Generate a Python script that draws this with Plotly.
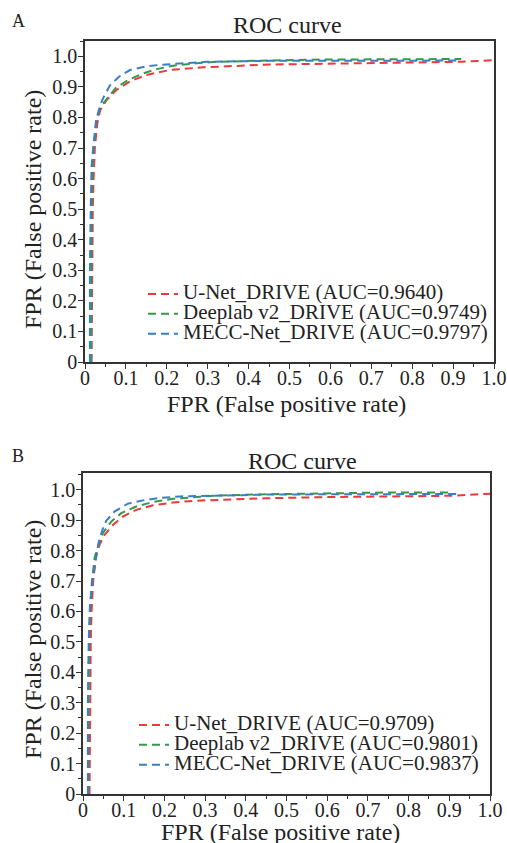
import plotly.graph_objects as go

# ---------------- data ----------------
# Panel A
a_unet_x = [0.016, 0.017, 0.019, 0.021, 0.024, 0.030, 0.037, 0.053, 0.077, 0.110, 0.150, 0.207, 0.288, 0.45, 0.60, 0.75, 0.85, 0.92, 1.0]
a_unet_y = [0.0, 0.30, 0.50, 0.60, 0.70, 0.78, 0.823, 0.857, 0.890, 0.918, 0.939, 0.955, 0.964, 0.973, 0.976, 0.978, 0.980, 0.982, 0.987]
a_deep_x = [0.015, 0.015, 0.016, 0.018, 0.021, 0.028, 0.037, 0.053, 0.075, 0.105, 0.140, 0.175, 0.215, 0.272, 0.313, 0.41, 0.55, 0.70, 0.85, 0.92]
a_deep_y = [0.0, 0.30, 0.50, 0.62, 0.70, 0.79, 0.833, 0.860, 0.896, 0.922, 0.943, 0.958, 0.969, 0.977, 0.981, 0.985, 0.989, 0.990, 0.991, 0.991]
a_mecc_x = [0.012, 0.012, 0.014, 0.016, 0.020, 0.027, 0.037, 0.045, 0.061, 0.083, 0.110, 0.150, 0.183, 0.232, 0.297, 0.45, 0.60, 0.75, 0.92]
a_mecc_y = [0.0, 0.30, 0.50, 0.64, 0.70, 0.79, 0.84, 0.865, 0.905, 0.933, 0.955, 0.967, 0.972, 0.977, 0.982, 0.985, 0.985, 0.985, 0.986]

# Panel B
b_unet_x = [0.016, 0.017, 0.019, 0.021, 0.025, 0.032, 0.041, 0.053, 0.074, 0.098, 0.131, 0.172, 0.221, 0.278, 0.328, 0.45, 0.60, 0.75, 0.90, 1.0]
b_unet_y = [0.0, 0.30, 0.50, 0.60, 0.70, 0.78, 0.82, 0.852, 0.885, 0.912, 0.934, 0.949, 0.958, 0.964, 0.967, 0.972, 0.976, 0.978, 0.980, 0.987]
b_deep_x = [0.013, 0.013, 0.015, 0.018, 0.022, 0.029, 0.037, 0.049, 0.070, 0.094, 0.131, 0.172, 0.221, 0.278, 0.328, 0.45, 0.60, 0.75, 0.897]
b_deep_y = [0.0, 0.25, 0.50, 0.62, 0.70, 0.78, 0.814, 0.858, 0.896, 0.923, 0.945, 0.960, 0.970, 0.976, 0.981, 0.985, 0.989, 0.991, 0.991]
b_mecc_x = [0.012, 0.012, 0.014, 0.017, 0.023, 0.031, 0.038, 0.047, 0.057, 0.078, 0.110, 0.147, 0.188, 0.238, 0.320, 0.45, 0.60, 0.75, 0.917]
b_mecc_y = [0.0, 0.30, 0.50, 0.62, 0.70, 0.774, 0.825, 0.865, 0.898, 0.929, 0.954, 0.965, 0.973, 0.978, 0.981, 0.984, 0.985, 0.986, 0.986]

names_a = ["U-Net_DRIVE (AUC=0.9640)", "Deeplab v2_DRIVE (AUC=0.9749)", "MECC-Net_DRIVE (AUC=0.9797)"]
names_b = ["U-Net_DRIVE (AUC=0.9709)", "Deeplab v2_DRIVE (AUC=0.9801)", "MECC-Net_DRIVE (AUC=0.9837)"]
colors = ["#ea3a3c", "#34994a", "#3b7ec8"]

tick_vals = [0, 0.1, 0.2, 0.3, 0.4, 0.5, 0.6, 0.7, 0.8, 0.9, 1.0]
tick_text = ["0", "0.1", "0.2", "0.3", "0.4", "0.5", "0.6", "0.7", "0.8", "0.9", "1.0"]

FONT = "Liberation Serif, Times New Roman, serif"
TXT = "#222222"

W, H = 507, 843


def fx(p):
    return p / W


def fy(p):
    return 1 - p / H


fig = go.Figure()

series_a = [(a_unet_x, a_unet_y), (a_deep_x, a_deep_y), (a_mecc_x, a_mecc_y)]
series_b = [(b_unet_x, b_unet_y), (b_deep_x, b_deep_y), (b_mecc_x, b_mecc_y)]

for (xs, ys), nm, c in zip(series_a, names_a, colors):
    fig.add_trace(go.Scatter(x=xs, y=ys, mode="lines", name='<span style="font-size:21px">%s</span>' % nm,
                             line=dict(color=c, width=2, dash="8px,5px"),
                             xaxis="x", yaxis="y", legend="legend"))
for (xs, ys), nm, c in zip(series_b, names_b, colors):
    fig.add_trace(go.Scatter(x=xs, y=ys, mode="lines", name='<span style="font-size:21px">%s</span>' % nm,
                             line=dict(color=c, width=2, dash="8px,5px"),
                             xaxis="x2", yaxis="y2", legend="legend2"))

axis_common = dict(
    showline=True, linecolor="#333333", linewidth=1.5, mirror=True,
    ticks="outside", ticklen=5, tickwidth=1.2, tickcolor="#333333",
    tickvals=tick_vals, ticktext=tick_text,
    tickfont=dict(family=FONT, size=20, color=TXT),
    minor=dict(ticks="outside", ticklen=3, tickwidth=1, tickcolor="#333333", dtick=0.05, showgrid=False),
    showgrid=False, zeroline=False, automargin=False,
)
x_extra = dict(ticklabelstandoff=-8)
y_extra = dict(ticklabelstandoff=-3)

legend_common = dict(xanchor="left", yanchor="top", bgcolor="rgba(0,0,0,0)",
                     font=dict(family=FONT, size=13, color=TXT),
                     itemwidth=30, tracegroupgap=0, borderwidth=0)


def ann(text, x, y, size, angle=0):
    return dict(text=text, x=fx(x), y=fy(y), xref="paper", yref="paper", showarrow=False,
                font=dict(family=FONT, size=size, color=TXT), textangle=angle,
                xanchor="center", yanchor="middle")


fig.update_layout(
    width=W, height=H,
    margin=dict(l=0, r=0, t=0, b=0),
    paper_bgcolor="white", plot_bgcolor="white",
    font=dict(family=FONT, color=TXT),
    xaxis=dict(axis_common, **x_extra, domain=[fx(85), fx(494)], range=[0, 1.0], anchor="y"),
    yaxis=dict(axis_common, **y_extra, domain=[fy(362), fy(41)], range=[0, 1.05], anchor="x"),
    xaxis2=dict(axis_common, **x_extra, domain=[fx(83), fx(490)], range=[0, 1.0], anchor="y2"),
    yaxis2=dict(axis_common, **y_extra, domain=[fy(794), fy(473)], range=[0, 1.055], anchor="x2"),
    legend=dict(legend_common, x=fx(143), y=fy(279)),
    legend2=dict(legend_common, x=fx(134), y=fy(710)),
    showlegend=True,
    annotations=[
        ann("ROC curve", 287, 25, 24),
        ann("ROC curve", 302, 461, 24),
        ann("A", 18, 21, 18),
        ann("B", 18, 456, 18),
        ann("FPR (False positive rate)", 286, 404, 24),
        ann("FPR (False positive rate)", 280, 832, 24),
        ann("FPR (False positive rate)", 33, 210, 24, -90),
        ann("FPR (False positive rate)", 33, 640, 24, -90),
    ],
)

fig.write_html(
    "out.html",
    config={"displayModeBar": False},
    post_script="document.body.style.margin='0';document.body.style.overflow='hidden';"
                "document.documentElement.style.overflow='hidden';",
)
